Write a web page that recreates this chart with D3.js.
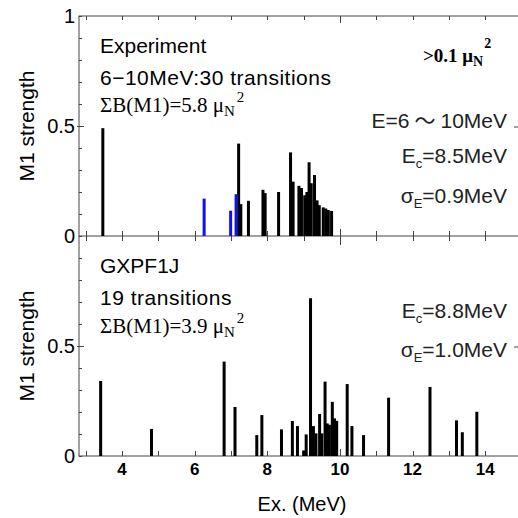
<!DOCTYPE html>
<html>
<head>
<meta charset="utf-8">
<script src="https://cdn.jsdelivr.net/npm/d3@7"></script>
<style>
  body { margin: 0; background: #fff; }
  text { font-family: "Liberation Sans", Arial, sans-serif; }
  .serif { font-family: "Liberation Serif", "Times New Roman", serif; }
</style>
</head>
<body>
<div id="chart"></div>
<script>
// experiment (>0.1 muN^2), black bars
var expEnergy   = [3.47, 7.21, 7.27, 7.48, 7.88, 7.94, 8.31, 8.64, 8.71, 8.87, 8.94, 9.03, 9.09, 9.15, 9.21, 9.30, 9.37, 9.43, 9.54, 9.61, 9.68, 9.77];
var expStrength = [0.49, 0.42, 0.145, 0.16, 0.21, 0.195, 0.20, 0.38, 0.247, 0.228, 0.218, 0.185, 0.20, 0.335, 0.24, 0.277, 0.162, 0.14, 0.13, 0.125, 0.118, 0.114];
// experiment, blue bars
var expBlueEnergy   = [6.26, 6.99, 7.14];
var expBlueStrength = [0.17, 0.115, 0.19];
// GXPF1J shell model
var calcEnergy   = [3.41, 4.81, 6.81, 7.11, 7.71, 7.85, 8.39, 8.69, 8.83, 9.00, 9.07, 9.19, 9.27, 9.34, 9.44, 9.50, 9.59, 9.65, 9.71, 9.79, 9.85, 9.91, 10.20, 10.33, 10.65, 11.34, 12.48, 13.21, 13.37, 13.77];
var calcStrength = [0.341, 0.123, 0.429, 0.223, 0.095, 0.186, 0.121, 0.159, 0.136, 0.025, 0.098, 0.717, 0.136, 0.103, 0.191, 0.103, 0.338, 0.148, 0.142, 0.246, 0.171, 0.16, 0.327, 0.136, 0.095, 0.265, 0.314, 0.162, 0.108, 0.201];

var xTicks = [4, 6, 8, 10, 12, 14];
var xMinor = [3, 5, 7, 9, 11, 13];
var yTicks = [0, 0.5, 1];

var width = 518, height = 518;
var svg = d3.select("#chart").append("svg")
    .attr("width", width)
    .attr("height", height);

var x = d3.scaleLinear().domain([2.8, 15]).range([78.5, 521.5]);
var yTop = d3.scaleLinear().domain([0, 1]).range([236, 16]);
var yBot = d3.scaleLinear().domain([0, 1]).range([456, 236]);
var axisCol = "#444";

// frame lines
[16, 236, 456].forEach(function(yy) {
  svg.append("line").attr("x1", x(2.8)).attr("x2", width).attr("y1", yy).attr("y2", yy)
    .attr("stroke", axisCol).attr("stroke-width", 1);
});
svg.append("line").attr("x1", 79).attr("x2", 79).attr("y1", 16).attr("y2", 456)
  .attr("stroke", axisCol).attr("stroke-width", 1);

// y ticks (every 0.1, inward; 0.5 crossing)
[yTop, yBot].forEach(function(y) {
  var t = d3.range(0, 1.01, 0.1);
  svg.append("g").selectAll("line").data(t).enter().append("line")
    .attr("x1", function(d) { return Math.abs(d - 0.5) < 0.01 ? 77 : 79; })
    .attr("x2", function(d) { return Math.abs(d - 0.5) < 0.01 ? 84 : 82; })
    .attr("y1", function(d) { return Math.round(y(d)) + 0.5; })
    .attr("y2", function(d) { return Math.round(y(d)) + 0.5; })
    .attr("stroke", axisCol).attr("stroke-width", 1);
  // right side tick at 0.5
  svg.append("line").attr("x1", 514).attr("x2", 518)
    .attr("y1", y(0.5) + 1).attr("y2", y(0.5) + 1)
    .attr("stroke", axisCol).attr("stroke-width", 1);
});

// y labels
svg.append("g").selectAll("text").data(yTicks).enter().append("text")
  .attr("x", 75).attr("y", function(d) { return yTop(d) + 7; })
  .attr("text-anchor", "end").attr("font-size", 20)
  .text(function(d) { return d; });
svg.append("g").selectAll("text").data([0, 0.5]).enter().append("text")
  .attr("x", 75).attr("y", function(d) { return yBot(d) + 7; })
  .attr("text-anchor", "end").attr("font-size", 20)
  .text(function(d) { return d; });

// x ticks at every MeV
var allX = xTicks.concat(xMinor);
var tickG = svg.append("g").attr("stroke", axisCol).attr("stroke-width", 1);
allX.forEach(function(v) {
  var px = Math.round(x(v)) + 0.5;
  var big = v === 10;
  tickG.append("line").attr("x1", px).attr("x2", px).attr("y1", 16).attr("y2", big ? 23 : 20);
  tickG.append("line").attr("x1", px).attr("x2", px).attr("y1", big ? 229 : 231).attr("y2", big ? 245 : 241);
  tickG.append("line").attr("x1", px).attr("x2", px).attr("y1", big ? 449 : 451).attr("y2", 456);
});

svg.append("g").selectAll("text").data(xTicks).enter().append("text")
  .attr("x", function(d) { return x(d); }).attr("y", 475)
  .attr("text-anchor", "middle").attr("font-size", 17).attr("font-weight", "bold")
  .text(function(d) { return d; });

svg.append("text").attr("x", 302).attr("y", 511)
  .attr("text-anchor", "middle").attr("font-size", 20).text("Ex. (MeV)");

[yTop, yBot].forEach(function(y) {
  svg.append("text")
    .attr("transform", "translate(34," + y(0.5) + ") rotate(-90)")
    .attr("text-anchor", "middle").attr("font-size", 21).text("M1 strength");
});

// bars
function drawBars(en, st, y, col) {
  svg.append("g").selectAll("rect").data(en).enter().append("rect")
    .attr("x", function(d) { return x(d) - 1.5; })
    .attr("width", 3)
    .attr("y", function(d, i) { return y(st[i]); })
    .attr("height", function(d, i) { return y(0) - y(st[i]); })
    .attr("fill", col);
}
drawBars(expEnergy, expStrength, yTop, "#000");
drawBars(expBlueEnergy, expBlueStrength, yTop, "#1010f0");
drawBars(calcEnergy, calcStrength, yBot, "#000");

// annotation text
function sumText(yb, val) {
  var t = svg.append("text").attr("class", "serif").attr("x", 100).attr("y", yb).attr("font-size", 21);
  t.append("tspan").text("\u03A3B(M1)=" + val + " \u03BC");
  t.append("tspan").attr("font-size", 15).attr("dy", 4).text("N");
  t.append("tspan").attr("font-size", 15).attr("dy", -14).attr("dx", 2).text("2");
}
svg.append("text").attr("x", 100).attr("y", 53).attr("font-size", 21).text("Experiment");
svg.append("text").attr("x", 100).attr("y", 85).attr("font-size", 21)
  .attr("letter-spacing", 0.5).text("6\u221210MeV:30 transitions");
sumText(112, "5.8");

svg.append("text").attr("x", 100).attr("y", 273).attr("font-size", 21).text("GXPF1J");
svg.append("text").attr("x", 100).attr("y", 305).attr("font-size", 21)
  .attr("letter-spacing", 0.5).text("19 transitions");
sumText(333, "3.9");

var thr = svg.append("text").attr("class", "serif").attr("x", 423).attr("y", 62)
  .attr("font-size", 19).attr("font-weight", "bold");
thr.append("tspan").text(">0.1 \u03BC");
thr.append("tspan").attr("font-size", 14).attr("dy", 4).text("N");
thr.append("tspan").attr("font-size", 14).attr("dy", -18).attr("dx", 1).text("2");

var rc = "#222";
var e1 = svg.append("text").attr("x", 507).attr("y", 128).attr("text-anchor", "end")
  .attr("font-size", 21).attr("fill", rc);
e1.append("tspan").text("E=6");
e1.append("tspan").attr("dx", 5).attr("font-family", "'Noto Sans CJK JP'").text("\u301C");
e1.append("tspan").attr("dx", 5).text("10MeV");

function subText(yb, main, sub, rest) {
  var t = svg.append("text").attr("x", 507).attr("y", yb).attr("text-anchor", "end")
    .attr("font-size", 21).attr("fill", rc);
  t.append("tspan").text(main);
  t.append("tspan").attr("font-size", 13).attr("dy", 5).text(sub);
  t.append("tspan").attr("dy", -5).text(rest);
}
subText(163, "E", "c", "=8.5MeV");
subText(203, "\u03C3", "E", "=0.9MeV");
subText(318, "E", "c", "=8.8MeV");
subText(357, "\u03C3", "E", "=1.0MeV");
</script>
</body>
</html>
